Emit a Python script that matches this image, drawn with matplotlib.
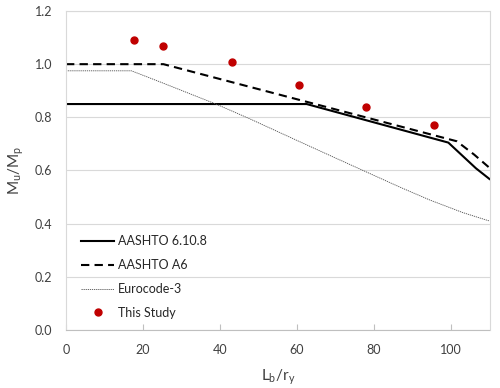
import matplotlib
matplotlib.use("Agg")
import matplotlib.pyplot as plt

plt.rcParams['font.family'] = ['Lato', 'DejaVu Sans']

# AASHTO 6.10.8 (solid)
aashto_6108_x = [0, 62.5, 99.3, 106.5, 110]
aashto_6108_y = [0.85, 0.85, 0.705, 0.608, 0.568]

# AASHTO A6 (dashed)
aashto_a6_x = [0, 25.3, 101.5, 106, 110]
aashto_a6_y = [1.0, 1.0, 0.71, 0.66, 0.61]

# Eurocode-3 (dotted)
euro_x = [0, 17.0, 25, 39.1, 47.8, 60, 70, 86.8, 94.5, 103, 110]
euro_y = [0.975, 0.975, 0.930, 0.849, 0.794, 0.713, 0.647, 0.537, 0.489, 0.442, 0.41]

# This Study (points)
study_x = [17.7, 25.2, 43.1, 60.5, 78.0, 95.6]
study_y = [1.091, 1.068, 1.008, 0.922, 0.839, 0.771]

xticks = [0, 20, 40, 60, 80, 100]
yticks = [0.0, 0.2, 0.4, 0.6, 0.8, 1.0, 1.2]

fig = plt.figure(figsize=(5.0, 3.88), dpi=100)
ax = fig.add_axes([66/500, 1 - 330/388, (489.5-66)/500, (330-11)/388])

ax.plot(aashto_6108_x, aashto_6108_y, color='black', lw=1.5, label='AASHTO 6.10.8')
ax.plot(aashto_a6_x, aashto_a6_y, color='black', lw=1.5, ls=(0, (4, 2.5)), label='AASHTO A6')
ax.plot(euro_x, euro_y, color='#505050', lw=0.6, ls=(0, (1.5, 1)), label='Eurocode-3')
ax.plot(study_x, study_y, ls='none', marker='o', ms=5, color='#C00000', label='This Study')

ax.set_xlim(0, 110)
ax.set_ylim(0, 1.2)
ax.set_xticks(xticks)
ax.set_yticks(yticks)
ax.set_yticklabels([f"{v:.1f}" for v in yticks])
ax.yaxis.grid(True, color='#D9D9D9', lw=0.8)
ax.set_axisbelow(True)
for s in ax.spines.values():
    s.set_color('#D9D9D9')
    s.set_linewidth(0.8)
ax.spines['bottom'].set_color('#BFBFBF')
ax.tick_params(axis='x', direction='in', length=4, color='#BFBFBF', labelsize=9, pad=10, labelcolor='#404040')
ax.tick_params(axis='y', length=0, labelsize=9, pad=10, labelcolor='#404040')

ax.set_xlabel('L$_\\mathregular{b}$/r$_\\mathregular{y}$', fontsize=11, color='#404040', labelpad=8)
ax.set_ylabel('M$_\\mathregular{u}$/M$_\\mathregular{p}$', fontsize=11, color='#404040', labelpad=6)

leg = ax.legend(loc='lower left', bbox_to_anchor=(0.01, 0.0), frameon=False, fontsize=9,
                handlelength=2.6, handletextpad=0.3, labelspacing=0.95)
for t in leg.get_texts():
    t.set_color('#262626')

fig.savefig('out.png', dpi=100)
